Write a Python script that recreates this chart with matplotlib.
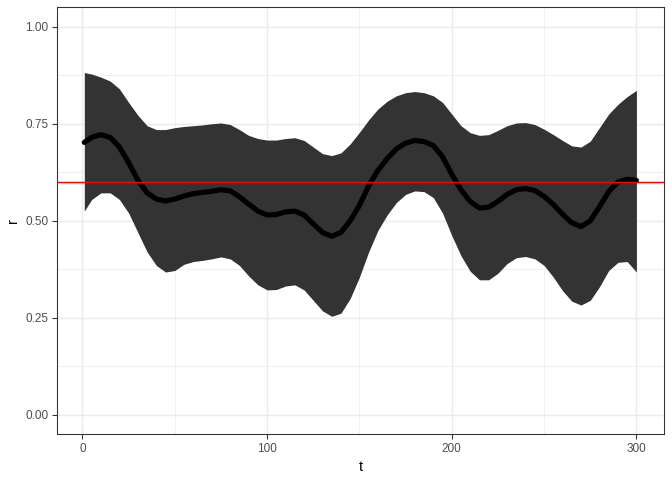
import matplotlib
matplotlib.use("Agg")
import matplotlib.pyplot as plt
from matplotlib.ticker import MultipleLocator

plt.rcParams["font.family"] = ["Liberation Sans", "DejaVu Sans"]

t = [1, 5, 10, 15, 20, 25, 30, 35, 40, 45, 50, 55, 60, 65, 70, 75, 80, 85, 90, 95,
     100, 105, 110, 115, 120, 125, 130, 135, 140, 145, 150, 155, 160, 165, 170, 175,
     180, 185, 190, 195, 200, 205, 210, 215, 220, 225, 230, 235, 240, 245, 250, 255,
     260, 265, 270, 275, 280, 285, 290, 295, 300]

r_mean = [0.702, 0.715, 0.722, 0.715, 0.690, 0.650, 0.605, 0.572, 0.556, 0.551,
          0.556, 0.564, 0.570, 0.573, 0.576, 0.580, 0.577, 0.562, 0.543, 0.525,
          0.515, 0.516, 0.523, 0.525, 0.515, 0.492, 0.470, 0.460, 0.470, 0.500,
          0.540, 0.590, 0.630, 0.660, 0.685, 0.700, 0.707, 0.704, 0.694, 0.665,
          0.620, 0.580, 0.550, 0.533, 0.535, 0.550, 0.568, 0.580, 0.583, 0.578,
          0.563, 0.542, 0.517, 0.495, 0.485, 0.500, 0.536, 0.575, 0.600, 0.607,
          0.604]

r_upper = [0.882, 0.878, 0.870, 0.860, 0.840, 0.805, 0.772, 0.745, 0.735, 0.735,
           0.740, 0.743, 0.745, 0.747, 0.750, 0.752, 0.748, 0.735, 0.720, 0.712,
           0.708, 0.708, 0.712, 0.714, 0.707, 0.690, 0.673, 0.668, 0.675, 0.698,
           0.728, 0.760, 0.788, 0.808, 0.822, 0.830, 0.833, 0.830, 0.822, 0.805,
           0.775, 0.745, 0.727, 0.720, 0.722, 0.733, 0.745, 0.752, 0.753, 0.748,
           0.736, 0.722, 0.707, 0.693, 0.690, 0.705, 0.740, 0.775, 0.800, 0.820,
           0.836]

r_lower = [0.525, 0.555, 0.572, 0.572, 0.555, 0.520, 0.470, 0.420, 0.385, 0.368,
           0.372, 0.388, 0.395, 0.398, 0.402, 0.407, 0.402, 0.385, 0.358, 0.335,
           0.322, 0.323, 0.332, 0.335, 0.322, 0.295, 0.268, 0.254, 0.262, 0.300,
           0.355, 0.420, 0.475, 0.515, 0.547, 0.568, 0.577, 0.575, 0.560, 0.520,
           0.462, 0.410, 0.370, 0.348, 0.348, 0.365, 0.390, 0.405, 0.408, 0.402,
           0.385, 0.355, 0.320, 0.293, 0.283, 0.295, 0.330, 0.372, 0.393, 0.395,
           0.368]

r_ref = 0.6

fig = plt.figure(figsize=(7, 5), dpi=96)
ax = fig.add_axes([56.7 / 672, 1 - 434.3 / 480, (664 - 56.7) / 672, (434.3 - 7.3) / 480])

ax.fill_between(t, r_lower, r_upper, color="#333333", lw=0, zorder=2)
ax.plot(t, r_mean, color="black", lw=3.9, solid_capstyle="round",
        solid_joinstyle="round", zorder=3)
ax.axhline(r_ref, color="red", lw=1.1, zorder=4)

# ggplot-style 5% expansion around the data range
span = t[-1] - t[0]
ax.set_xlim(t[0] - 0.05 * span, t[-1] + 0.05 * span)
ax.set_ylim(-0.05, 1.05)
ax.xaxis.set_major_locator(MultipleLocator(100))
ax.xaxis.set_minor_locator(MultipleLocator(50))
ax.yaxis.set_major_locator(MultipleLocator(0.25))
ax.yaxis.set_minor_locator(MultipleLocator(0.125))
ax.yaxis.set_major_formatter(lambda v, p: f"{v:.2f}")

ax.grid(True, which="major", color="#EBEBEB", lw=1.1, zorder=0)
ax.grid(True, which="minor", color="#EBEBEB", lw=0.55, zorder=0)
ax.set_axisbelow(True)
for s in ax.spines.values():
    s.set_color("#333333")
    s.set_linewidth(0.8)

ax.tick_params(which="major", length=3.7, width=0.8, color="#333333",
               labelsize=8.8, labelcolor="#4D4D4D", pad=2.5)
ax.tick_params(which="minor", length=0)

ax.set_xlabel("t", fontsize=11, labelpad=4)
ax.set_ylabel("r", fontsize=11, labelpad=4)

fig.savefig("out.png", dpi=96, facecolor="white")
